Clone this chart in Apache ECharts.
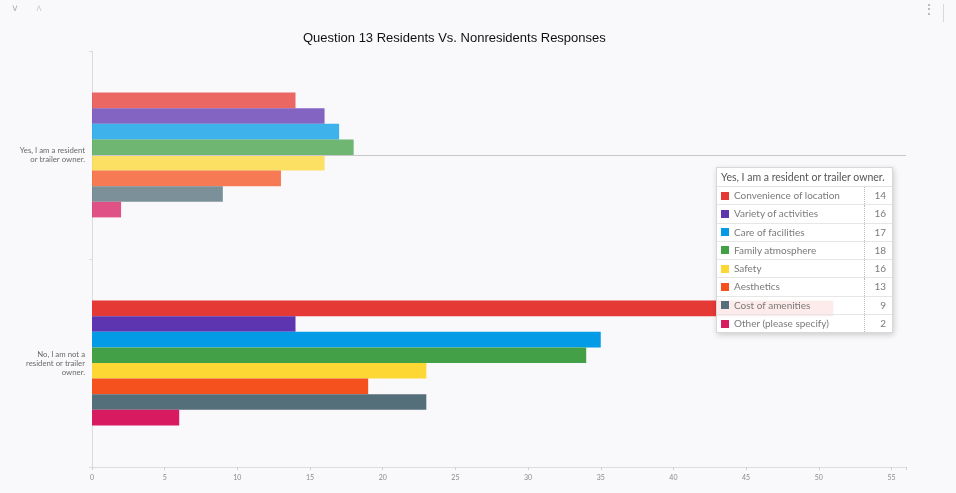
<!DOCTYPE html>
<html>
<head>
<meta charset="utf-8">
<script src="https://cdn.jsdelivr.net/npm/echarts@6/dist/echarts.min.js"></script>
<style>
html,body{margin:0;padding:0;background:#f9f9fb;}
#chart{width:956px;height:493px;}
</style>
</head>
<body>
<div id="chart"></div>
<script>
const title = 'Question 13 Residents Vs. Nonresidents Responses';
const categories = ['Yes, I am a resident or trailer owner.', 'No, I am not a resident or trailer owner.'];
const categoryLabels = ['Yes, I am a resident\nor trailer owner.', 'No, I am not a\nresident or trailer\nowner.'];
const seriesNames = ['Convenience of location', 'Variety of activities', 'Care of facilities', 'Family atmosphere', 'Safety', 'Aesthetics', 'Cost of amenities', 'Other (please specify)'];
const residentValues = [14, 16, 17, 18, 16, 13, 9, 2];
const nonresidentValues = [51, 14, 35, 34, 23, 19, 23, 6];
const colors = ['#e53935', '#5e35b1', '#039be5', '#43a047', '#fdd835', '#f4511e', '#546e7a', '#d81b60'];
const xTicks = [0, 5, 10, 15, 20, 25, 30, 35, 40, 45, 50, 55];

const chart = echarts.init(document.getElementById('chart'));

const series = seriesNames.map((name, i) => ({
  name: name,
  type: 'bar',
  barGap: '0%',
  barCategoryGap: '40%',
  itemStyle: { color: colors[i] },
  emphasis: { disabled: true },
  data: [
    { value: residentValues[i], itemStyle: { opacity: 0.76 } },
    { value: nonresidentValues[i] }
  ]
}));

function tooltipHtml(idx) {
  const vals = idx === 0 ? residentValues : nonresidentValues;
  let h = '<div style="font-family:Lato,\'Open Sans\',sans-serif;width:175px;">';
  h += '<div style="height:18px;line-height:18px;font-size:10.5px;color:#555;padding-left:4px;border-bottom:1px solid #e2e2e2;white-space:nowrap;overflow:hidden;">' + categories[idx] + '</div>';
  seriesNames.forEach((n, i) => {
    const last = i === seriesNames.length - 1;
    h += '<div style="display:flex;height:17.3px;line-height:17.3px;font-size:10px;color:#7a7a7a;' + (last ? '' : 'border-bottom:1px solid #e6e6e6;') + '">';
    h += '<div style="flex:1;padding-left:4px;white-space:nowrap;"><span style="display:inline-block;width:8px;height:8px;background:' + colors[i] + ';margin-right:5px;vertical-align:-0.5px;"></span>' + n + '</div>';
    h += '<div style="width:21px;text-align:right;padding-right:6px;border-left:1px dotted #bbb;">' + vals[i] + '</div>';
    h += '</div>';
  });
  h += '</div>';
  return h;
}

chart.setOption({
  animation: false,
  backgroundColor: '#f9f9fb',
  title: {
    text: title,
    left: 298,
    top: 27,
    textStyle: { fontFamily: 'Liberation Sans, sans-serif', fontSize: 13, fontWeight: 'normal', color: '#111' }
  },
  grid: { left: 92, right: 50, top: 51, bottom: 26, containLabel: false },
  xAxis: {
    type: 'value',
    min: 0,
    max: 56,
    interval: 5,
    splitLine: { show: false },
    axisLine: { show: true, lineStyle: { color: '#dcdce0' } },
    axisTick: { show: true, length: 3, lineStyle: { color: '#d0d0d4' } },
    axisLabel: {
      fontSize: 7, color: '#8a8a8a', margin: 7, fontFamily: 'Lato, sans-serif',
      formatter: v => (xTicks.indexOf(v) >= 0 ? String(v) : '')
    }
  },
  yAxis: {
    type: 'category',
    inverse: true,
    data: categories,
    axisLine: { show: true, lineStyle: { color: '#dcdce0' } },
    axisTick: { show: true, length: 3, lineStyle: { color: '#dcdce0' } },
    axisLabel: {
      fontSize: 7.8, lineHeight: 9, color: '#6a6a6a', margin: 7, align: 'right', fontFamily: 'Lato, sans-serif',
      formatter: (v, i) => categoryLabels[i]
    }
  },
  tooltip: {
    trigger: 'axis',
    alwaysShowContent: true,
    transitionDuration: 0,
    showDelay: 0,
    hideDelay: 0,
    padding: 0,
    borderWidth: 1,
    borderColor: '#d8d8d8',
    borderRadius: 0,
    backgroundColor: 'rgba(255,255,255,0.9)',
    extraCssText: 'box-shadow:1px 2px 6px rgba(0,0,0,0.18);',
    position: [716, 167],
    axisPointer: { type: 'line', lineStyle: { color: '#c8c8cc', width: 1, type: 'solid' } },
    formatter: params => tooltipHtml(params[0].dataIndex)
  },
  graphic: [
    { type: 'text', left: 12, top: 4, style: { text: '\u02c5', fontSize: 10, fill: '#aaa' } },
    { type: 'text', left: 36, top: 4, style: { text: '\u02c4', fontSize: 10, fill: '#ccc' } },
    { type: 'text', left: 923, top: 4, style: { text: '\u22ee', fontSize: 12, fill: '#999' } },
    { type: 'rect', shape: { x: 943, y: 4, width: 1, height: 18 }, style: { fill: '#d8d8d8' } }
  ],
  series: series
});

chart.dispatchAction({ type: 'showTip', seriesIndex: 0, dataIndex: 0 });
</script>
</body>
</html>
